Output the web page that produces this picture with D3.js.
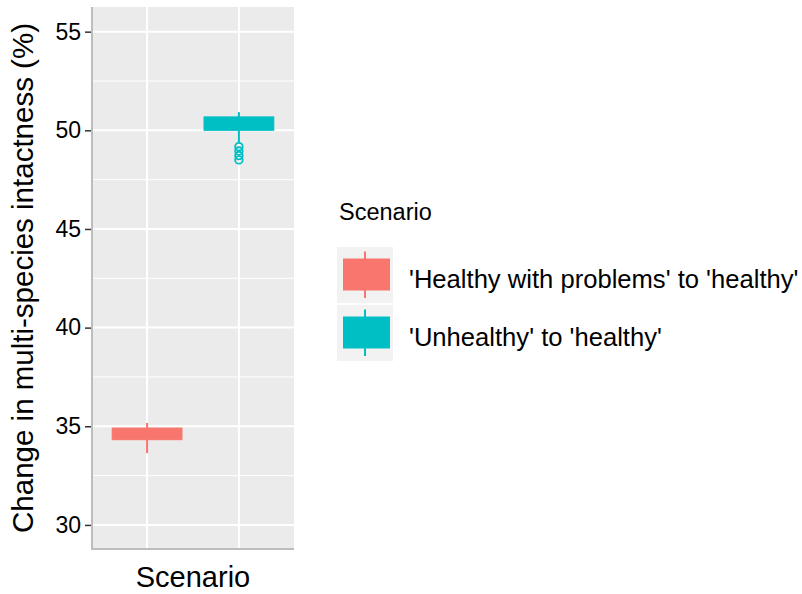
<!DOCTYPE html>
<html>
<head>
<meta charset="utf-8">
<script src="https://cdn.jsdelivr.net/npm/d3@7"></script>
<style>
  body { margin: 0; background: #fff; }
  text { font-family: "Liberation Sans", Arial, sans-serif; fill: #000; }
</style>
</head>
<body>
<div id="chart"></div>
<script>
// data
const scenarios = ["'Healthy with problems' to 'healthy'", "'Unhealthy' to 'healthy'"];
const colors = ["#F8766D", "#00BFC4"];
const whiskerLow = [33.64, 49.36];
const q1 = [34.32, 50.0];
const median = [34.6, 50.35];
const q3 = [34.91, 50.68];
const whiskerHigh = [35.17, 50.92];
const outliers = [[], [49.17, 48.95, 48.72, 48.5]];
const yTicks = [30, 35, 40, 45, 50, 55];
const yMinor = [32.5, 37.5, 42.5, 47.5, 52.5];

const width = 802, height = 594;
const panel = { left: 92, right: 294, top: 7, bottom: 549 };

const svg = d3.select('#chart').append('svg')
    .attr('width', width)
    .attr('height', height);

const y = d3.scaleLinear()
    .domain([28.78, 56.25])
    .range([panel.bottom, panel.top]);

// discrete x with ggplot style expansion (0.6 each side)
const x = d3.scaleLinear()
    .domain([0.4, scenarios.length + 0.6])
    .range([panel.left, panel.right]);

const boxHalf = (x(1.38) - x(1));

// panel background
svg.append('rect')
    .attr('x', panel.left).attr('y', panel.top)
    .attr('width', panel.right - panel.left)
    .attr('height', panel.bottom - panel.top)
    .attr('fill', '#EBEBEB');

// grid
svg.selectAll('.minor').data(yMinor).join('line')
    .attr('x1', panel.left).attr('x2', panel.right)
    .attr('y1', d => y(d)).attr('y2', d => y(d))
    .attr('stroke', '#fff').attr('stroke-width', 1);

svg.selectAll('.major').data(yTicks).join('line')
    .attr('x1', panel.left).attr('x2', panel.right)
    .attr('y1', d => y(d)).attr('y2', d => y(d))
    .attr('stroke', '#fff').attr('stroke-width', 2);

svg.selectAll('.vgrid').data(scenarios).join('line')
    .attr('x1', (d, i) => x(i + 1)).attr('x2', (d, i) => x(i + 1))
    .attr('y1', panel.top).attr('y2', panel.bottom)
    .attr('stroke', '#fff').attr('stroke-width', 2);

// boxes
const boxes = svg.selectAll('.box').data(scenarios).join('g');

boxes.append('line')
    .attr('x1', (d, i) => x(i + 1)).attr('x2', (d, i) => x(i + 1))
    .attr('y1', (d, i) => y(whiskerHigh[i])).attr('y2', (d, i) => y(whiskerLow[i]))
    .attr('stroke', (d, i) => colors[i]).attr('stroke-width', 2);

boxes.append('rect')
    .attr('x', (d, i) => x(i + 1) - boxHalf)
    .attr('width', boxHalf * 2)
    .attr('y', (d, i) => y(q3[i]))
    .attr('height', (d, i) => y(q1[i]) - y(q3[i]))
    .attr('fill', (d, i) => colors[i])
    .attr('stroke', (d, i) => colors[i]).attr('stroke-width', 1);

boxes.append('line')
    .attr('x1', (d, i) => x(i + 1) - boxHalf).attr('x2', (d, i) => x(i + 1) + boxHalf)
    .attr('y1', (d, i) => y(median[i])).attr('y2', (d, i) => y(median[i]))
    .attr('stroke', (d, i) => colors[i]).attr('stroke-width', 2);

boxes.each(function (d, i) {
    d3.select(this).selectAll('circle').data(outliers[i]).join('circle')
        .attr('cx', x(i + 1))
        .attr('cy', v => y(v))
        .attr('r', 3.8)
        .attr('fill', 'none')
        .attr('stroke', colors[i])
        .attr('stroke-width', 1.8);
});

// axes
const yAxis = svg.append('g')
    .attr('transform', `translate(${panel.left},0)`)
    .call(d3.axisLeft(y).tickValues(yTicks).tickSize(7).tickPadding(4));
yAxis.select('.domain').remove();
yAxis.selectAll('.tick line').attr('stroke', '#333').attr('stroke-width', 1.5);
yAxis.selectAll('.tick text')
    .style('font-size', '23px')
    .style('font-family', '"Liberation Sans", Arial, sans-serif')
    .attr('fill', '#000');

svg.append('line')
    .attr('x1', panel.left).attr('x2', panel.left)
    .attr('y1', panel.top).attr('y2', panel.bottom + 1)
    .attr('stroke', '#BDBDBD').attr('stroke-width', 2);
svg.append('line')
    .attr('x1', panel.left - 1).attr('x2', panel.right)
    .attr('y1', panel.bottom).attr('y2', panel.bottom)
    .attr('stroke', '#BDBDBD').attr('stroke-width', 2);

// titles
svg.append('text')
    .attr('x', (panel.left + panel.right) / 2)
    .attr('y', 587)
    .attr('text-anchor', 'middle')
    .style('font-size', '29px')
    .text('Scenario');

svg.append('text')
    .attr('transform', `translate(33,${(panel.top + panel.bottom) / 2}) rotate(-90)`)
    .attr('text-anchor', 'middle')
    .style('font-size', '29.5px')
    .text('Change in multi-species intactness (%)');

// legend
const legend = svg.append('g').attr('transform', 'translate(337,0)');
legend.append('text')
    .attr('x', 2).attr('y', 220)
    .style('font-size', '23.5px')
    .text('Scenario');

const keySize = 56, keyGap = 2, keyTop = 247;
const keys = legend.selectAll('.key').data(scenarios).join('g')
    .attr('transform', (d, i) => `translate(0,${keyTop + i * (keySize + keyGap)})`);

keys.append('rect')
    .attr('width', keySize).attr('height', keySize)
    .attr('fill', '#F2F2F2');
keys.append('line')
    .attr('x1', keySize / 2).attr('x2', keySize / 2)
    .attr('y1', 4.5).attr('y2', 51)
    .attr('stroke', (d, i) => colors[i]).attr('stroke-width', 2);
keys.append('rect')
    .attr('x', 6.5).attr('y', 12)
    .attr('width', 46).attr('height', 31)
    .attr('fill', (d, i) => colors[i])
    .attr('stroke', (d, i) => colors[i]).attr('stroke-width', 1);
keys.append('text')
    .attr('x', 72).attr('y', keySize / 2 + 12.5)
    .style('font-size', '25.6px')
    .text(d => d);
</script>
</body>
</html>
